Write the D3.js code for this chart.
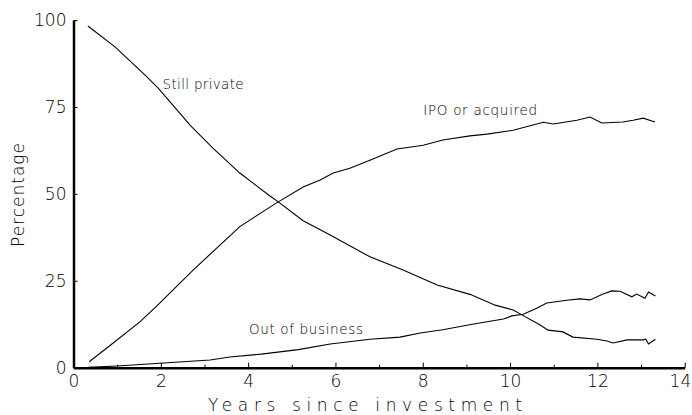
<!DOCTYPE html>
<html>
<head>
<meta charset="utf-8">
<script src="https://cdn.jsdelivr.net/npm/d3@7"></script>
<style>
body { margin: 0; background: #fff; }
text { font-family: "DejaVu Sans", sans-serif; font-weight: 200; fill: #000; }
</style>
</head>
<body>
<div id="chart"></div>
<script>
// values
const privateYears = [0.33, 0.95, 1.64, 1.94, 2.69, 3.2, 3.81, 4.5, 4.69, 5.26, 5.88, 6.79, 7.55, 8.33, 9.08, 9.66, 10.07, 10.27, 10.69, 10.87, 11.21, 11.44, 11.99, 12.22, 12.36, 12.68, 13.05, 13.11, 13.17, 13.33]
const privateValues = [98.3, 92.3, 84.2, 80.4, 69.5, 63.1, 56, 49.4, 47.7, 42.3, 38.2, 31.9, 28.1, 23.8, 21.1, 18.0, 16.6, 15.2, 12.3, 10.8, 10.3, 8.8, 8.2, 7.7, 7.1, 8.0, 8.0, 8.2, 6.8, 8.2]

const ipoYears = [0.36, 0.91, 1.52, 1.91, 2.74, 3.81, 4.5, 4.69, 5.26, 5.65, 5.95, 6.33, 6.79, 7.41, 8.01, 8.46, 9.08, 9.47, 10.07, 10.76, 10.99, 11.53, 11.83, 12.1, 12.58, 12.82, 13.05, 13.32]
const ipoValues = [1.7, 7.1, 13.2, 17.8, 28.1, 40.6, 46.2, 47.7, 52.0, 54.0, 56.0, 57.4, 59.7, 62.9, 64.0, 65.5, 66.7, 67.2, 68.3, 70.6, 70.1, 71.2, 72.1, 70.4, 70.7, 71.2, 71.8, 70.7]

const outYears = [0.33, 1.0, 1.98, 3.13, 3.58, 4.3, 5.15, 5.88, 6.79, 7.48, 7.94, 8.46, 9.04, 9.47, 9.85, 10.04, 10.3, 10.61, 10.84, 11.3, 11.6, 11.83, 12.13, 12.33, 12.52, 12.79, 12.9, 13.09, 13.17, 13.33]
const outValues = [0.1, 0.5, 1.3, 2.2, 3.1, 3.9, 5.2, 6.8, 8.2, 8.8, 10.0, 10.9, 12.3, 13.2, 14.0, 14.9, 15.4, 17.1, 18.6, 19.4, 19.8, 19.5, 21.2, 22.1, 22.0, 20.4, 21.2, 20.0, 21.8, 20.6]

const xMajorTicks = [0, 2, 4, 6, 8, 10, 12, 14]
const xMinorTicks = [1, 3, 5, 7, 9, 11, 13]
const yTicks = [0, 25, 50, 75, 100]

const seriesLabels = [
    {text: "Still private", year: 2.04, value: 80.1, len: 81},
    {text: "IPO or acquired", year: 8.01, value: 72.6, len: 114},
    {text: "Out of business", year: 4.02, value: 9.7, len: 114}
]

const width = 692, height = 415
const x = d3.scaleLinear().domain([0, 14]).range([73.5, 684.7])
const y = d3.scaleLinear().domain([0, 100]).range([367.7, 20.1])

const svg = d3.select("#chart").append("svg")
    .attr("width", width)
    .attr("height", height)

const line = d3.line().x(d => x(d[0])).y(d => y(d[1]))

const series = [
    d3.zip(privateYears, privateValues),
    d3.zip(ipoYears, ipoValues),
    d3.zip(outYears, outValues)
]

svg.selectAll(".series")
    .data(series)
    .enter()
    .append("path")
    .attr("class", "series")
    .attr("d", line)
    .attr("fill", "none")
    .attr("stroke", "#000")
    .attr("stroke-width", 1.1)

// x axis, ticks pointing up
const xAxis = svg.append("g")
    .attr("transform", "translate(0," + y(0) + ")")
    .call(d3.axisBottom(x).tickValues(xMajorTicks).tickSizeInner(-5).tickSizeOuter(0).tickPadding(7))
xAxis.select(".domain").attr("stroke-width", 2.5)
xAxis.selectAll("text")
    .style("font-size", "17px")
    .style("font-family", "DejaVu Sans")
    .style("font-weight", 200)
// last label sits at the window edge: keep it inside
xAxis.selectAll(".tick text").filter(d => d === 14)
    .attr("text-anchor", "end")
    .attr("dx", 6)

svg.append("g")
    .attr("transform", "translate(0," + y(0) + ")")
    .call(d3.axisBottom(x).tickValues(xMinorTicks).tickSize(-3).tickFormat(""))
    .select(".domain").remove()

// y axis, ticks pointing right
const yAxis = svg.append("g")
    .attr("transform", "translate(" + x(0) + ",0)")
    .call(d3.axisLeft(y).tickValues(yTicks).tickSizeInner(-4).tickSizeOuter(0).tickPadding(7))
yAxis.select(".domain").attr("stroke-width", 2.5)
yAxis.selectAll("text")
    .style("font-size", "17px")
    .style("font-family", "DejaVu Sans")
    .style("font-weight", 200)

// axis titles
svg.append("text")
    .attr("x", 365)
    .attr("y", 411)
    .attr("text-anchor", "middle")
    .attr("textLength", 314)
    .attr("lengthAdjust", "spacing")
    .style("font-size", "17px")
    .text("Years since investment")

svg.append("text")
    .attr("transform", "translate(24,195) rotate(-90)")
    .attr("text-anchor", "middle")
    .attr("textLength", 104)
    .attr("lengthAdjust", "spacing")
    .style("font-size", "17px")
    .text("Percentage")

svg.selectAll(".label")
    .data(seriesLabels)
    .enter()
    .append("text")
    .attr("class", "label")
    .attr("x", d => x(d.year))
    .attr("y", d => y(d.value))
    .attr("textLength", d => d.len)
    .attr("lengthAdjust", "spacing")
    .style("font-size", "13.5px")
    .text(d => d.text)
</script>
</body>
</html>
